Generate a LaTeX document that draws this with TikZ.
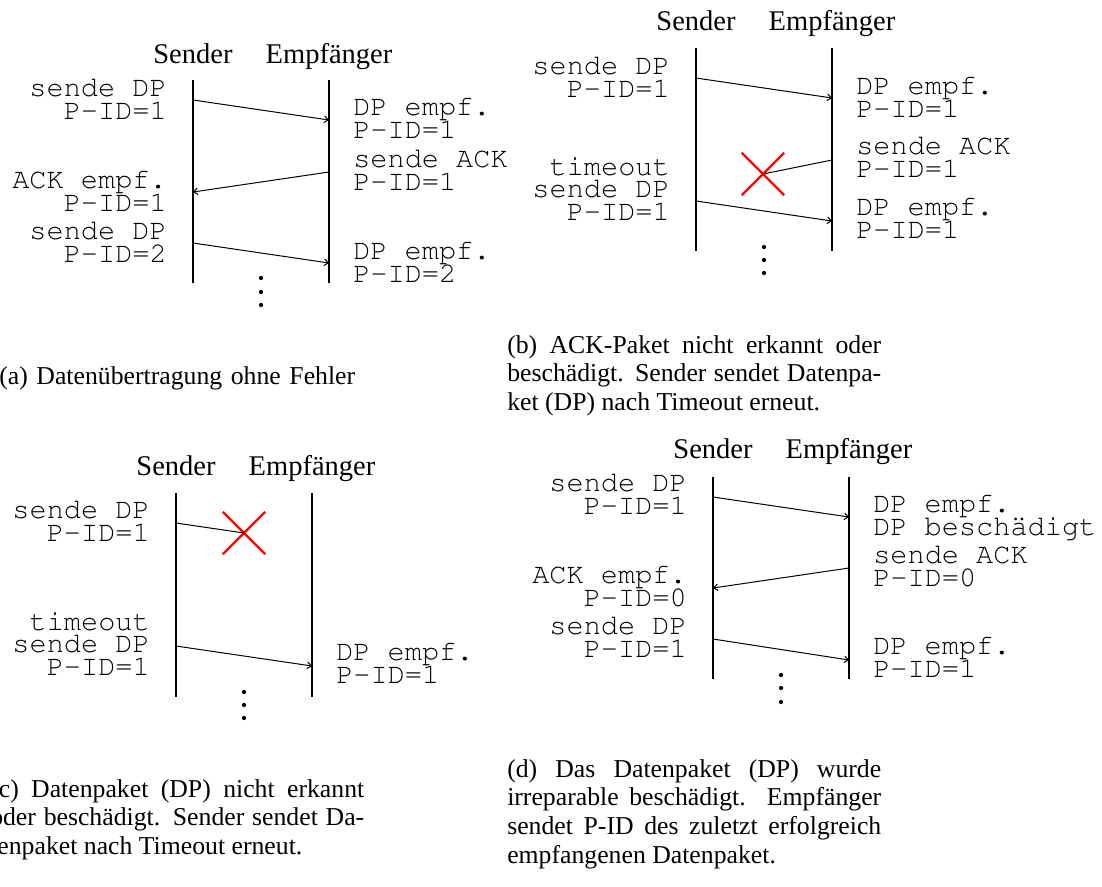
\documentclass[tikz,border=0pt]{standalone}
\usepackage[T1]{fontenc}
\usepackage{fontspec}
\setmainfont{Liberation Serif}
\usetikzlibrary{positioning, arrows.meta, shapes.misc}

\newcommand{\headfont}{\fontsize{21.4pt}{24pt}\selectfont}
\newcommand{\msgfont}{\fontencoding{T1}\fontfamily{pcr}\fontsize{21.45pt}{16.7pt}\selectfont\lineskiplimit=-20pt}
\newcommand{\capfont}{\fontsize{19.3pt}{21.5pt}\selectfont}

\begin{document}
\begin{tikzpicture}[
    x=0.75pt, y=-0.75pt,
    head/.style={font=\headfont, inner sep=0pt, anchor=base},
    % multi-line labels sit on the baseline of their last line
    msgl/.style={font=\msgfont, align=right, anchor=base east, inner sep=0pt},
    msgr/.style={font=\msgfont, align=left, anchor=base west, inner sep=0pt},
    life/.style={line width=1.5pt},
    arrow/.style={-{Straight Barb[length=3pt,width=5pt]}, line width=0.75pt},
    lost/.style={line width=0.75pt},
    cross/.style={cross out, draw=red, line width=1.8pt, minimum size=30pt, inner sep=0pt},
    caption/.style={font=\capfont, text width=280.5pt, align=justify, anchor=base west, inner sep=0pt}
]
    \useasboundingbox (0,0) rectangle (1102,886);

    % 1. Panel (a): no errors
    \node[head] (aSnd) at (193,63) {Sender};
    \node[head] (aEmp) at (329,63) {Empfänger};
    \coordinate (aS) at (193,80);
    \coordinate (aE) at (329,80);
    \draw[life] (aS) -- ++(0,203);
    \draw[life] (aE) -- ++(0,203);

    \node[msgl] (aL1) at (167,119) {sende DP\\P-ID=1};
    \node[msgl] (aL2) at (167,211) {ACK empf.\\P-ID=1};
    \node[msgl] (aL3) at (167,262) {sende DP\\P-ID=2};
    \node[msgr] (aR1) at (353,138) {DP empf.\\P-ID=1};
    \node[msgr] (aR2) at (353,190) {sende ACK\\P-ID=1};
    \node[msgr] (aR3) at (353,282) {DP empf.\\P-ID=2};

    \coordinate (aS1) at (193,100); \coordinate (aE1) at (329,120);
    \coordinate (aE2) at (329,172); \coordinate (aS2) at (193,192);
    \coordinate (aS3) at (193,243); \coordinate (aE3) at (329,263);
    \draw[arrow] (aS1) -- (aE1);
    \draw[arrow] (aE2) -- (aS2);
    \draw[arrow] (aS3) -- (aE3);
    \foreach \y in {278,292,305} \fill (261,\y) circle (1.6pt);

    \node[caption, align=center] (aCap) at (-10,384) {(a) Datenübertragung ohne Fehler};

    % 2. Panel (b): ACK lost
    \node[head] (bSnd) at (696,30) {Sender};
    \node[head] (bEmp) at (832,30) {Empfänger};
    \coordinate (bS) at (696,48);
    \coordinate (bE) at (832,48);
    \draw[life] (bS) -- ++(0,203);
    \draw[life] (bE) -- ++(0,203);

    \node[msgl] (bL1) at (670,97) {sende DP\\P-ID=1};
    \node[msgl] (bL2) at (670,220) {timeout\\sende DP\\P-ID=1};
    \node[msgr] (bR1) at (856,117) {DP empf.\\P-ID=1};
    \node[msgr] (bR2) at (856,177) {sende ACK\\P-ID=1};
    \node[msgr] (bR3) at (856,238) {DP empf.\\P-ID=1};

    \coordinate (bS1) at (696,78); \coordinate (bE1) at (832,98);
    \coordinate (bE2) at (832,160);
    \coordinate (bS3) at (696,201); \coordinate (bE3) at (832,221);
    \node[cross] (bX) at (763,174) {};
    \draw[arrow] (bS1) -- (bE1);
    \draw[lost] (bE2) -- (bX.center);
    \draw[arrow] (bS3) -- (bE3);
    \foreach \y in {247,260,273} \fill (764,\y) circle (1.6pt);

    \node[caption] (bCap) at (507,353) {(b) ACK-Paket nicht erkannt oder\linebreak
        beschädigt. Sender sendet Datenpa-\linebreak ket (DP) nach Timeout erneut.};

    % 3. Panel (c): data packet lost
    \node[head] (cSnd) at (176,475) {Sender};
    \node[head] (cEmp) at (312,475) {Empfänger};
    \coordinate (cS) at (176,493);
    \coordinate (cE) at (312,493);
    \draw[life] (cS) -- ++(0,204);
    \draw[life] (cE) -- ++(0,204);

    \node[msgl] (cL1) at (150,541) {sende DP\\P-ID=1};
    \node[msgl] (cL2) at (150,675) {timeout\\sende DP\\P-ID=1};
    \node[msgr] (cR1) at (336,683) {DP empf.\\P-ID=1};

    \coordinate (cS1) at (176,523);
    \coordinate (cS2) at (176,646); \coordinate (cE2) at (312,666);
    \node[cross] (cX) at (244,533) {};
    \draw[lost] (cS1) -- (cX.center);
    \draw[arrow] (cS2) -- (cE2);
    \foreach \y in {692,705,718} \fill (244,\y) circle (1.6pt);

    \node[caption] (cCap) at (-10,797) {(c) Datenpaket (DP) nicht erkannt\linebreak
        oder beschädigt. Sender sendet Da-\linebreak tenpaket nach Timeout erneut.};

    % 4. Panel (d): data packet damaged
    \node[head] (dSnd) at (713,458) {Sender};
    \node[head] (dEmp) at (849,458) {Empfänger};
    \coordinate (dS) at (713,477);
    \coordinate (dE) at (849,477);
    \draw[life] (dS) -- ++(0,202);
    \draw[life] (dE) -- ++(0,202);

    \node[msgl] (dL1) at (687,514) {sende DP\\P-ID=1};
    \node[msgl] (dL2) at (687,606) {ACK empf.\\P-ID=0};
    \node[msgl] (dL3) at (687,657) {sende DP\\P-ID=1};
    \node[msgr] (dR1) at (873,535) {DP empf.\\DP beschädigt};
    \node[msgr] (dR2) at (873,586) {sende ACK\\P-ID=0};
    \node[msgr] (dR3) at (873,677) {DP empf.\\P-ID=1};

    \coordinate (dS1) at (713,497); \coordinate (dE1) at (849,517);
    \coordinate (dE2) at (849,568); \coordinate (dS2) at (713,588);
    \coordinate (dS3) at (713,639); \coordinate (dE3) at (849,660);
    \draw[arrow] (dS1) -- (dE1);
    \draw[arrow] (dE2) -- (dS2);
    \draw[arrow] (dS3) -- (dE3);
    \foreach \y in {675,688,702} \fill (781,\y) circle (1.6pt);

    \node[caption] (dCap) at (507,777) {(d) Das Datenpaket (DP) wurde\linebreak
        irreparable beschädigt. Empfänger\linebreak sendet P-ID des zuletzt erfolgreich\linebreak
        empfangenen Datenpaket.};
\end{tikzpicture}
\end{document}
